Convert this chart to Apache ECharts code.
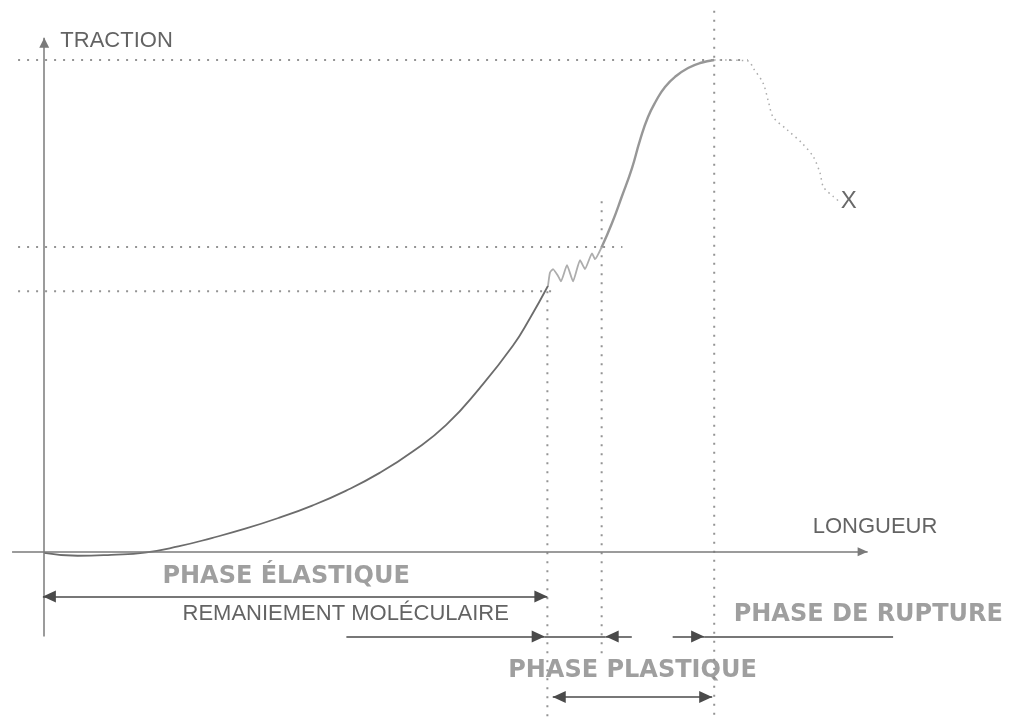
<!DOCTYPE html>
<html><head><meta charset="utf-8">
<script src="https://cdn.jsdelivr.net/npm/echarts@6/dist/echarts.min.js"></script>
<style>html,body{margin:0;padding:0;background:#fff}#c{width:1009px;height:722px}</style>
</head><body><div id="c"></div>
<script>
// ---------- DATA (longueur, traction) in chart units; the peak is (100, 100) ----------
const elasticCurve = [[0,-0.2],[5,-0.8],[10,-0.6],[15,-0.15],[20,1.1],[25,2.8],[30,4.7],[35,6.9],[40,9.4],[45,12.4],[50,16.0],[55,20.4],[60,25.8],[65,33.3],[70,42.0],[72.5,47.5],[75.2,54.1]];
const slipZigzag = [[75.19,54.05],[75.49,56.8],[75.94,57.5],[76.69,56.1],[77.13,55.0],[78.03,58.3],[78.93,55.0],[79.97,59.3],[80.72,57.5],[81.76,60.7],[82.21,59.5],[83.21,61.98]];
const plasticCurve = [[83.21,61.98],[84.75,66.86],[86.24,72.35],[87.73,78.04],[88.93,83.73],[90.12,88.41],[91.31,91.66],[92.66,94.51],[94.31,96.75],[96.1,98.37],[97.9,99.39],[100,100]];
const ruptureTail = [[100,100],[105.1,99.8],[105.8,98.4],[107.3,95.3],[108.1,91.5],[108.8,88.4],[110.9,85.8],[113.1,83.1],[114.8,80.3],[115.8,77.0],[116.3,74.2],[117.8,72.2],[118.8,71.1]];
const breakPoint = [120.1, 71.3];

const elasticLimit = 75.1, elasticLimitTraction = 53.0;
const plasticStart = 83.2, plasticStartTraction = 62.0;
const peakLength = 100, peakTraction = 100;

const axisTitles = ['LONGUEUR', 'TRACTION'];
const phaseTitles = ['PHASE ÉLASTIQUE', 'PHASE PLASTIQUE', 'PHASE DE RUPTURE'];
const noteTitle = 'REMANIEMENT MOLÉCULAIRE';
const breakLabel = 'X';

// ---------- LAYOUT (chart units) ----------
const X_MIN = -6.6, X_MAX = 144, Y_MIN = -34.6, Y_MAX = 112.2;
const guideLeft = -3.9;
const hGuides = [[peakTraction, guideLeft, 105.0], [plasticStartTraction, guideLeft, 86.3], [elasticLimitTraction, guideLeft, 76.7]];
const vGuides = [[peakLength, 110.0, -34.2], [plasticStart, 71.3, -20.6], [elasticLimit, 53.0, -34.6]];
const axisX = [-4.8, 122.9], axisY = [-17.2, 104.5];
const rowElastic = -9.1, rowNote = -17.2, rowPlastic = -29.5;

const BOLD = {fontFamily: 'DejaVu Sans', fontWeight: 'bold', fontSize: 24, color: '#878787'};
const REG = {fontFamily: 'Liberation Sans', fontWeight: 'normal', fontSize: 22, color: '#3c3c3c'};
const texts = [
  [axisTitles[0], 124.0, 5.0, REG],
  [axisTitles[1], 10.8, 103.8, REG],
  [phaseTitles[0], 36.1, -5.0, BOLD],
  [noteTitle, 45.0, -12.65, REG],
  [phaseTitles[2], 123.0, -12.85, BOLD],
  [phaseTitles[1], 87.8, -24.1, BOLD],
  [breakLabel, breakPoint[0], breakPoint[1], Object.assign({}, REG, {fontSize: 24, color: '#444'})]
];

// ---------- BUILD ----------
const TRI = 'triangle';
function seg(x1, y1, x2, y2, a1, a2, size) {
  const s = size || [12, 13];
  const end = (x, y, a) => ({coord: [x, y], symbol: a ? TRI : 'none', symbolSize: s, symbolOffset: [0, '50%']});
  return [end(x1, y1, a1), end(x2, y2, a2)];
}
const arrowLines = [
  seg(-0.2, rowElastic, elasticLimit, rowElastic, true, true),
  seg(45.1, rowNote, elasticLimit - 0.4, rowNote, false, true),
  seg(elasticLimit - 0.4, rowNote, plasticStart + 0.6, rowNote, false, false),
  seg(87.7, rowNote, plasticStart + 0.6, rowNote, false, true),
  seg(93.8, rowNote, peakLength - 1.5, rowNote, false, true),
  seg(peakLength - 1.5, rowNote, 126.7, rowNote, false, false),
  seg(elasticLimit + 0.8, rowPlastic, peakLength - 0.3, rowPlastic, true, true)
];
const axisLines = [
  seg(axisX[0], 0, axisX[1], 0, false, true, [9, 10]),
  seg(0, axisY[0], 0, axisY[1], false, true, [10, 10])
];

const guideSeries = [];
hGuides.forEach(g => guideSeries.push([[g[1], g[0]], [g[2], g[0]]]));
vGuides.forEach(g => guideSeries.push([[g[0], g[1]], [g[0], g[2]]]));

const series = [];
guideSeries.forEach(d => series.push({
  type: 'line', data: d, symbol: 'none', silent: true, z: 1,
  lineStyle: {color: '#949494', width: 2, type: [2, 7]}
}));
series.push({type: 'line', name: 'élastique', data: elasticCurve, smooth: 0.5, symbol: 'none', z: 3,
  lineStyle: {color: '#6c6c6c', width: 1.8},
  markLine: {silent: true, symbol: 'none', label: {show: false}, animation: false,
    lineStyle: {color: '#7a7a7a', width: 1.5, type: 'solid'}, emphasis: {disabled: true}, data: axisLines}
});
series.push({type: 'line', name: 'glissement', data: slipZigzag, smooth: 0.15, symbol: 'none', z: 3,
  lineStyle: {color: '#adadad', width: 1.8}});
series.push({type: 'line', name: 'plastique', data: plasticCurve, smooth: 0.5, symbol: 'none', z: 3,
  lineStyle: {color: '#979797', width: 2.4},
  markLine: {silent: true, symbol: 'none', label: {show: false}, animation: false,
    lineStyle: {color: '#4a4a4a', width: 1.5, type: 'solid'}, emphasis: {disabled: true}, data: arrowLines}
});
series.push({type: 'line', name: 'rupture', data: ruptureTail, smooth: 0.3, symbol: 'none', z: 2,
  lineStyle: {color: '#ababab', width: 1.5, type: [1.5, 4]}});
series.push({type: 'scatter', name: 'textes', symbolSize: 1, silent: true, z: 5,
  itemStyle: {color: 'rgba(0,0,0,0)'},
  data: texts.map(t => ({value: [t[1], t[2]], name: t[0],
    label: Object.assign({show: true, position: 'inside', formatter: '{b}', align: 'center', verticalAlign: 'middle'}, t[3])}))
});

const chart = echarts.init(document.getElementById('c'), null, {renderer: 'canvas'});
chart.setOption({
  animation: false,
  backgroundColor: '#fff',
  grid: {left: 0, right: 0, top: 0, bottom: 0, containLabel: false},
  xAxis: {type: 'value', min: X_MIN, max: X_MAX, show: false},
  yAxis: {type: 'value', min: Y_MIN, max: Y_MAX, show: false},
  tooltip: {show: false},
  series: series
});
</script></body></html>
